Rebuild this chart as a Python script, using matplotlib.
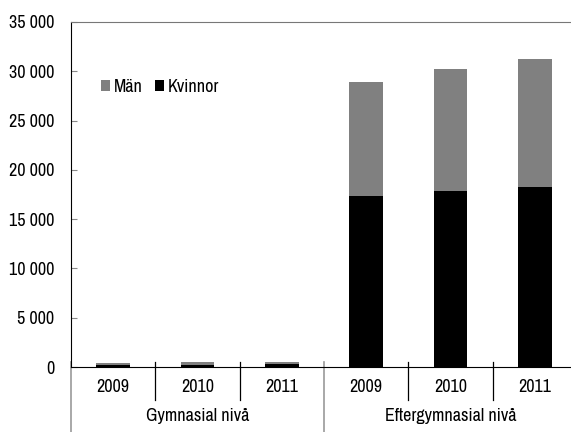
import matplotlib
matplotlib.use("Agg")
import matplotlib.pyplot as plt
import numpy as np

plt.rcParams['font.family'] = ['Archivo Narrow', 'DejaVu Sans']

years = ['2009', '2010', '2011', '2009', '2010', '2011']
groups = ['Gymnasial nivå', 'Eftergymnasial nivå']
kvinnor = [200, 230, 300, 17300, 17900, 18300]
man = [250, 280, 230, 11600, 12300, 12900]

x = np.arange(len(years))

fig = plt.figure(figsize=(5.71, 4.32), dpi=100)
ax = fig.add_axes([71 / 571, 65 / 432, 506 / 571, 345 / 432])

ax.bar(x, kvinnor, width=0.4, color='black', label='Kvinnor')
ax.bar(x, man, width=0.4, bottom=kvinnor, color='#808080', label='Män')

ax.set_xlim(-0.5, len(years) - 0.5)
ax.set_ylim(0, 35000)
ax.set_yticks(np.arange(0, 35001, 5000))
ax.set_yticklabels([f"{v:,}".replace(',', ' ') for v in range(0, 35001, 5000)])
ax.tick_params(axis='y', direction='in', length=4, width=0.8, color='#888888',
               labelsize=13, pad=12)

ax.spines['right'].set_visible(False)
ax.spines['top'].set_color('#777777')
ax.spines['left'].set_color('black')
ax.spines['bottom'].set_color('black')

# year labels at category centers, no tick marks
ax.set_xticks(x)
ax.set_xticklabels(years)
ax.tick_params(axis='x', length=0, labelsize=13, pad=9)

# separators below the axis
trans = ax.get_xaxis_transform()
for b in np.arange(-0.5, len(years), 1.0):
    if b in (-0.5, 2.5):
        ax.plot([b, b], [0.015, -0.2], transform=trans, color='#999999',
                lw=1.2, clip_on=False)
    else:
        ax.plot([b, b], [0.015, -0.095], transform=trans, color='black',
                lw=0.9, clip_on=False)

for i, g in enumerate(groups):
    ax.text(i * 3 + 1, -0.143, g, transform=trans, ha='center', va='center',
            fontsize=13)

handles, labels = ax.get_legend_handles_labels()
ax.legend(handles[::-1], labels[::-1], loc='center left',
          bbox_to_anchor=(0.059, 0.812), ncol=2, frameon=False, fontsize=13,
          handlelength=0.5, handleheight=0.5, handletextpad=0.2,
          columnspacing=0.7, borderpad=0, borderaxespad=0)

fig.savefig('out.png', dpi=100)
